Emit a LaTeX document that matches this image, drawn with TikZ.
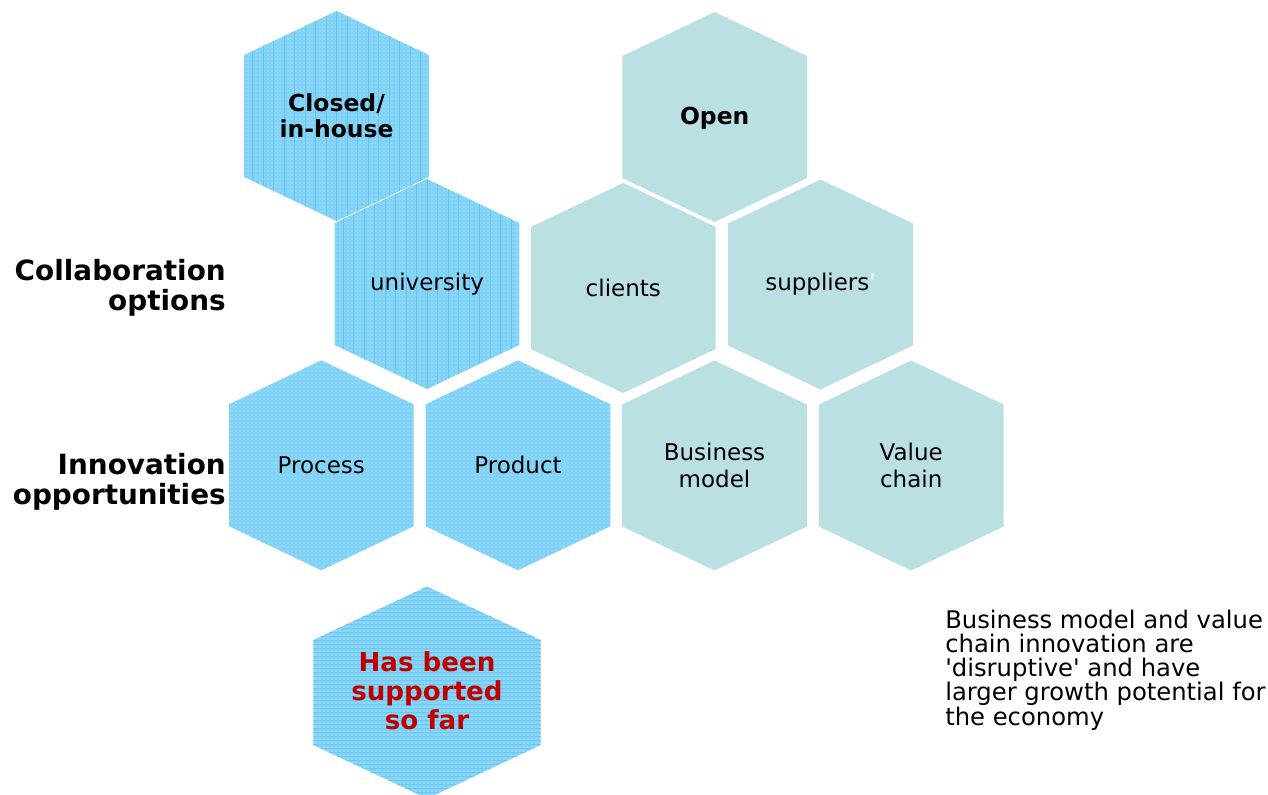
\documentclass[tikz,border=0pt]{standalone}
\usepackage{fontspec}
\setmainfont{DejaVu Sans}[Ligatures=TeXOff]
\usetikzlibrary{patterns}
\definecolor{hexblue}{HTML}{80D3F6}
\definecolor{hexteal}{HTML}{BAE0E4}
\definecolor{lineblue}{HTML}{30B2EC}
\definecolor{supred}{HTML}{C00000}
% hexagon outline: cx, cy, half-width, half-height, shoulder
\newcommand{\hexclip}[5]{\clip ({#1},{#2-#4}) -- ({#1+#3},{#2-#5}) -- ({#1+#3},{#2+#5}) -- ({#1},{#2+#4}) -- ({#1-#3},{#2+#5}) -- ({#1-#3},{#2-#5}) -- cycle;}
\newcommand{\tealhex}[2]{\fill[hexteal] ({#1},{#2-105}) -- ({#1+92.3},{#2-61}) -- ({#1+92.3},{#2+61}) -- ({#1},{#2+105}) -- ({#1-92.3},{#2+61}) -- ({#1-92.3},{#2-61}) -- cycle;}
\newcommand{\dothex}[2]{%
  \begin{scope}
    \hexclip{#1}{#2}{92.3}{105}{61}
    \fill[hexblue] ({#1-100},{#2-110}) rectangle ({#1+100},{#2+110});
    \fill[pattern=dots,pattern color=white,opacity=.55] ({#1-100},{#2-110}) rectangle ({#1+100},{#2+110});
  \end{scope}}
\newcommand{\stripehex}[2]{%
  \begin{scope}
    \hexclip{#1}{#2}{92.3}{105}{61}
    \fill[hexblue] ({#1-100},{#2-110}) rectangle ({#1+100},{#2+110});
    \fill[pattern=dots,pattern color=white,opacity=.55] ({#1-100},{#2-110}) rectangle ({#1+100},{#2+110});
    \foreach \k in {-9,...,9} \draw[lineblue!75,line width=0.45pt] ({#1+\k*10.5},{#2-110}) -- ({#1+\k*10.5},{#2+110});
  \end{scope}}
\newcommand{\hlinehex}[2]{%
  \begin{scope}
    \hexclip{#1}{#2}{113.7}{106}{52.5}
    \fill[hexblue] ({#1-120},{#2-110}) rectangle ({#1+120},{#2+110});
    \fill[pattern=dots,pattern color=white,opacity=.55] ({#1-120},{#2-110}) rectangle ({#1+120},{#2+110});
    \foreach \k in {-27,...,27} \draw[lineblue!70,line width=0.45pt] ({#1-120},{#2+\k*4}) -- ({#1+120},{#2+\k*4});
  \end{scope}}
\tikzset{
  hextext/.style={inner sep=0pt,align=center,font=\fontsize{17.25pt}{20pt}\selectfont},
  hexbold/.style={inner sep=0pt,align=center,font=\fontsize{17.6pt}{19.5pt}\selectfont\bfseries},
  sidelabel/.style={inner sep=0pt,align=right,anchor=east,font=\fontsize{20.9pt}{22.1pt}\selectfont\bfseries},
  redlabel/.style={inner sep=0pt,align=center,text=supred,font=\fontsize{19.6pt}{21.75pt}\selectfont\bfseries},
  notetext/.style={inner sep=0pt,align=left,anchor=west,font=\fontsize{18.2pt}{18.2pt}\selectfont}
}
\begin{document}
\begin{tikzpicture}[x=0.75pt,y=-0.75pt]
\useasboundingbox[fill=white] (0,0) rectangle (1268,795);
% blue hexagons
\stripehex{336.5}{116}
\stripehex{427}{284}
\dothex{321.3}{465.3}
\dothex{518}{465.3}
\hlinehex{427}{692.5}
% teal hexagons
\tealhex{714.7}{117}
\tealhex{623.3}{288}
\tealhex{820.5}{284.5}
\tealhex{714.5}{465.5}
\tealhex{911.2}{465.5}
% labels
\node[hexbold] (closed) at (336.5,116) {Closed/\\in-house};
\node[hexbold] (open) at (714.7,118) {Open};
\node[hextext] (univ) at (427,284) {university};
\node[hextext] (clients) at (623.3,288) {clients};
\node[hextext] (suppliers) at (820.5,284.5) {suppliers{\color{white}'}};
\node[hextext] (process) at (321.3,465.3) {Process};
\node[hextext] (product) at (518,465.3) {Product};
\node[hextext] (business) at (714.5,465.5) {Business\\model};
\node[hextext] (value) at (911.2,465.5) {Value\\chain};
\node[redlabel] (supported) at (427,691) {Has been\\supported\\so far};
\node[sidelabel] (collab) at (226,288) {Collaboration\\options};
\node[sidelabel] (innov) at (226,482) {Innovation\\opportunities};
\node[notetext] (note) at (945,670) {Business model and value\\chain innovation are\\'disruptive' and have\\larger growth potential for\\the economy};
\end{tikzpicture}
\end{document}
